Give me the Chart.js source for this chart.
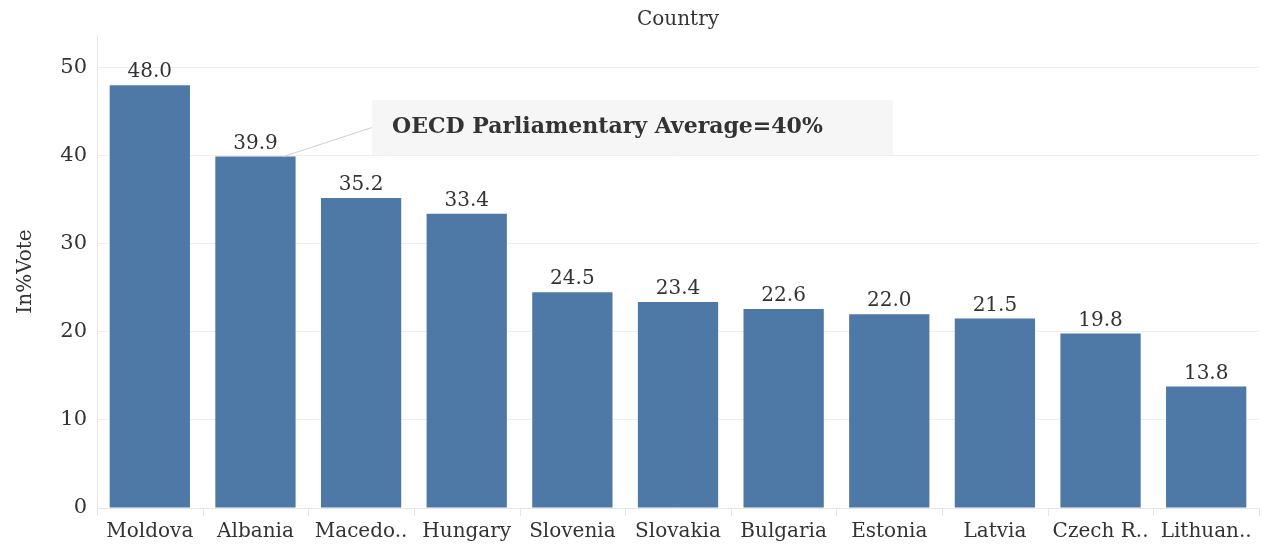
<!DOCTYPE html>
<html>
<head>
<meta charset="utf-8">
<script src="https://cdn.jsdelivr.net/npm/chart.js@4/dist/chart.umd.min.js"></script>
<style>
  html, body { margin: 0; padding: 0; background: #fff; }
  #wrap { width: 1267px; height: 548px; }
</style>
</head>
<body>
<div id="wrap"><canvas id="chart"></canvas></div>
<script>
// Data
const countries = ['Moldova', 'Albania', 'Macedo..', 'Hungary', 'Slovenia', 'Slovakia',
    'Bulgaria', 'Estonia', 'Latvia', 'Czech R..', 'Lithuan..'];
const votes = [48.0, 39.9, 35.2, 33.4, 24.5, 23.4, 22.6, 22.0, 21.5, 19.8, 13.8];
const yTicks = [0, 10, 20, 30, 40, 50];
const noteText = 'OECD Parliamentary Average=40%';
const noteIndex = 1; // Albania

const SERIF = '"DejaVu Serif", "Liberation Serif", serif';
const BAR = '#4e79a7';

// value labels above each bar
const valueLabels = {
    id: 'valueLabels',
    afterDatasetsDraw(chart) {
        const ctx = chart.ctx;
        const meta = chart.getDatasetMeta(0);
        ctx.save();
        ctx.font = '20px ' + SERIF;
        ctx.fillStyle = '#333';
        ctx.textAlign = 'center';
        ctx.textBaseline = 'bottom';
        meta.data.forEach((bar, i) => {
            ctx.fillText(votes[i].toFixed(1), bar.x, bar.y - 3);
        });
        ctx.restore();
    }
};

// "Country" header centred over the plot area
const header = {
    id: 'header',
    afterDraw(chart) {
        const ctx = chart.ctx;
        const a = chart.chartArea;
        ctx.save();
        ctx.font = '20px ' + SERIF;
        ctx.fillStyle = '#333';
        ctx.textAlign = 'center';
        ctx.textBaseline = 'middle';
        ctx.fillText('Country', (a.left + a.right) / 2, 20);
        ctx.restore();
    }
};

// callout box pointing at the Albania bar
const callout = {
    id: 'callout',
    afterDatasetsDraw(chart) {
        const ctx = chart.ctx;
        const bar = chart.getDatasetMeta(0).data[noteIndex];
        const boxX = 372, boxY = 100, boxW = 521, boxH = 55;
        ctx.save();
        ctx.strokeStyle = '#cfcfcf';
        ctx.lineWidth = 1;
        ctx.beginPath();
        ctx.moveTo(bar.x + 28, bar.y);
        ctx.lineTo(boxX, boxY + boxH / 2);
        ctx.stroke();
        ctx.fillStyle = 'rgba(246,246,246,0.95)';
        ctx.fillRect(boxX, boxY, boxW, boxH);
        ctx.font = 'bold 22px ' + SERIF;
        ctx.fillStyle = '#333';
        ctx.textBaseline = 'middle';
        ctx.fillText(noteText, boxX + 20, boxY + boxH / 2);
        ctx.restore();
    }
};

// thin separators between categories below the axis
const catTicks = {
    id: 'catTicks',
    afterDraw(chart) {
        const ctx = chart.ctx;
        const x = chart.scales.x;
        const bottom = chart.chartArea.bottom;
        ctx.save();
        ctx.strokeStyle = '#e6e6e6';
        ctx.lineWidth = 1;
        for (let i = 0; i <= countries.length; i++) {
            const px = Math.round(x.getPixelForValue(i - 0.5)) + 0.5;
            ctx.beginPath();
            ctx.moveTo(px, bottom);
            ctx.lineTo(px, bottom + 8);
            ctx.stroke();
        }
        ctx.restore();
    }
};

new Chart(document.getElementById('chart'), {
    type: 'bar',
    data: {
        labels: countries,
        datasets: [{
            data: votes,
            backgroundColor: BAR,
            borderWidth: 0,
            barPercentage: 0.76,
            categoryPercentage: 1.0
        }]
    },
    plugins: [valueLabels, callout, catTicks, header],
    options: {
        responsive: true,
        maintainAspectRatio: false,
        animation: false,
        layout: { padding: { top: 35, right: 8, bottom: 0, left: 14 } },
        plugins: {
            legend: { display: false },
            tooltip: { enabled: false },
            title: { display: false }
        },
        scales: {
            x: {
                grid: { display: false },
                border: { display: true, color: '#e6e6e6' },
                ticks: {
                    color: '#333',
                    font: { family: SERIF, size: 20 },
                    maxRotation: 0,
                    autoSkip: false,
                    padding: 4
                }
            },
            y: {
                min: 0,
                max: 53.7,
                afterBuildTicks(scale) {
                    scale.ticks = yTicks.map(v => ({ value: v }));
                },
                afterFit(scale) { scale.width = 83; },
                grid: { color: '#efefef', drawTicks: false },
                border: { display: true, color: '#e6e6e6' },
                ticks: {
                    color: '#333',
                    font: { family: SERIF, size: 21 },
                    padding: 10
                },
                title: {
                    display: true,
                    text: 'In%Vote',
                    color: '#333',
                    font: { family: SERIF, size: 20 },
                    padding: { top: 0, bottom: 10 }
                }
            }
        }
    }
});
</script>
</body>
</html>
